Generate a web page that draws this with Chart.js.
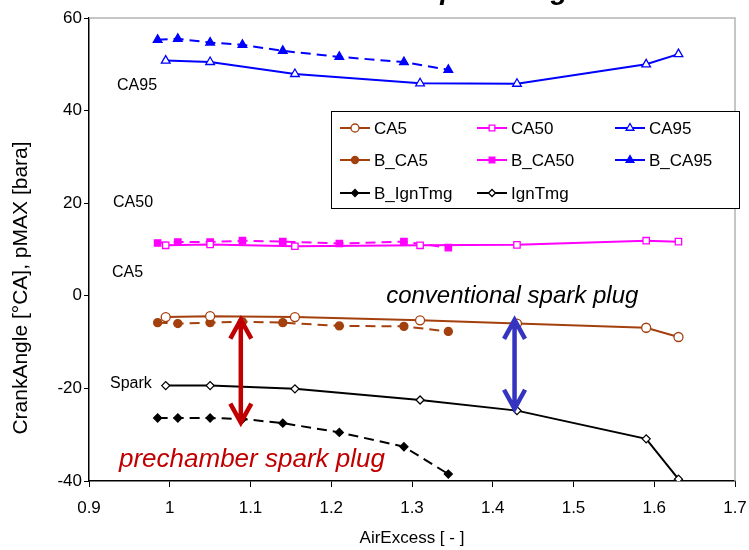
<!DOCTYPE html>
<html>
<head>
<meta charset="utf-8">
<script src="https://cdn.jsdelivr.net/npm/chart.js@4.4.1/dist/chart.umd.min.js"></script>
<style>
  body { margin: 0; background: #fff; }
  #wrap { width: 749px; height: 550px; }
</style>
</head>
<body>
<div id="wrap"><canvas id="phasingChart" width="749" height="550"></canvas></div>
<script>
// air excess ratio of the two test series
const lambdaConv = [0.995, 1.05, 1.155, 1.31, 1.43, 1.59, 1.63];
const lambdaPre = [0.985, 1.01, 1.05, 1.09, 1.14, 1.21, 1.29, 1.345];

// conventional spark plug [°CA]
const ca5 = [-4.6, -4.4, -4.6, -5.3, -6.0, -6.9, -8.9];
const ca50 = [10.9, 11.1, 10.7, 10.9, 11.0, 11.9, 11.7];
const ca95 = [50.8, 50.5, 47.9, 45.9, 45.8, 50.0, 52.2];
const ignTmg = [-19.4, -19.4, -20.1, -22.5, -24.8, -30.9, -39.6];

// prechamber spark plug [°CA]
const bCa5 = [-5.8, -6.0, -5.8, -5.6, -5.8, -6.5, -6.6, -7.7];
const bCa50 = [11.4, 11.6, 11.6, 11.9, 11.7, 11.3, 11.7, 10.4];
const bCa95 = [55.3, 55.5, 54.7, 54.2, 52.9, 51.6, 50.5, 48.8];
const bIgnTmg = [-26.4, -26.4, -26.4, -26.6, -27.5, -29.5, -32.6, -38.5];

const xTickValues = [0.9, 1.0, 1.1, 1.2, 1.3, 1.4, 1.5, 1.6, 1.7];
const yTickValues = [-40, -20, 0, 20, 40, 60];

const legendOrder = ["CA5", "CA50", "CA95", "B_CA5", "B_CA50", "B_CA95", "B_IgnTmg", "IgnTmg"];

const FONT = "'Liberation Sans', Arial, sans-serif";
const BROWN = "#a3400e";
const MAGENTA = "#ff00ff";
const BLUE = "#0000ff";

function pts(xs, ys) {
    return xs.map((x, i) => ({ x: x, y: ys[i] }));
}

function series(label, xs, ys, color, style, filled, dashed, radius) {
    return {
        label: label,
        data: pts(xs, ys),
        borderColor: color,
        backgroundColor: color,
        borderWidth: 2,
        borderDash: dashed ? [10, 6] : [],
        pointStyle: style,
        pointRadius: radius,
        pointBorderWidth: 1.3,
        pointBorderColor: color,
        pointBackgroundColor: filled ? color : "#ffffff",
        tension: 0
    };
}

const datasets = [
    series("CA5", lambdaConv, ca5, BROWN, "circle", false, false, 4.5),
    series("CA50", lambdaConv, ca50, MAGENTA, "rect", false, false, 4.5),
    series("CA95", lambdaConv, ca95, BLUE, "triangle", false, false, 5),
    series("IgnTmg", lambdaConv, ignTmg, "#000000", "rectRot", false, false, 4),
    series("B_CA5", lambdaPre, bCa5, BROWN, "circle", true, true, 4),
    series("B_CA50", lambdaPre, bCa50, MAGENTA, "rect", true, true, 4.5),
    series("B_CA95", lambdaPre, bCa95, BLUE, "triangle", true, true, 5),
    series("B_IgnTmg", lambdaPre, bIgnTmg, "#000000", "rectRot", true, true, 4)
];

// gray frame on the top/right of the plot area, y axis title
const framePlugin = {
    id: "frame",
    beforeDatasetsDraw(chart) {
        const { ctx, chartArea: a } = chart;
        ctx.save();
        ctx.strokeStyle = "#b4b4b4";
        ctx.lineWidth = 1.5;
        ctx.beginPath();
        ctx.moveTo(a.left, a.top);
        ctx.lineTo(a.right, a.top);
        ctx.lineTo(a.right, a.bottom);
        ctx.stroke();

        ctx.translate(21, 288);
        ctx.rotate(-Math.PI / 2);
        ctx.fillStyle = "#000";
        ctx.font = "21px " + FONT;
        ctx.textAlign = "center";
        ctx.textBaseline = "middle";
        ctx.fillText("CrankAngle [°CA], pMAX [bara]", 0, 0);
        ctx.restore();
    }
};

function doubleArrow(ctx, x, y1, y2, color) {
    const head = 19, half = 10.5;
    ctx.save();
    ctx.strokeStyle = color;
    ctx.lineWidth = 4.5;
    ctx.lineJoin = "miter";
    ctx.beginPath();
    ctx.moveTo(x, y1 + 2);
    ctx.lineTo(x, y2 - 2);
    ctx.moveTo(x - half, y1 + head);
    ctx.lineTo(x, y1);
    ctx.lineTo(x + half, y1 + head);
    ctx.moveTo(x - half, y2 - head);
    ctx.lineTo(x, y2);
    ctx.lineTo(x + half, y2 - head);
    ctx.stroke();
    ctx.restore();
}

// labels, arrows and the heading
const notesPlugin = {
    id: "notes",
    afterDatasetsDraw(chart) {
        const { ctx } = chart;
        const xs = chart.scales.x, ys = chart.scales.y;
        const px = v => xs.getPixelForValue(v);
        const py = v => ys.getPixelForValue(v);

        ctx.save();
        ctx.fillStyle = "#000";
        ctx.textBaseline = "middle";
        ctx.textAlign = "left";
        ctx.font = "16px " + FONT;
        ctx.fillText("CA95", 117, 86);
        ctx.fillText("CA50", 113, 203);
        ctx.fillText("CA5", 112, 273);
        ctx.fillText("Spark", 110, 384);

        ctx.font = "italic 24px " + FONT;
        ctx.fillText("conventional spark plug", px(1.268), py(-0.2));
        ctx.fillStyle = "#c00000";
        ctx.font = "italic 26px " + FONT;
        ctx.fillText("prechamber spark plug", 119, py(-35.5));

        ctx.font = "bold italic 28px " + FONT;
        ctx.fillStyle = "#000";
        ctx.textAlign = "center";
        ctx.textBaseline = "alphabetic";
        ctx.fillText("Prechamber Spark Plug", 410, -1);
        ctx.restore();

        doubleArrow(ctx, px(1.088), py(-5.15), py(-27.4), "#c00000");
        doubleArrow(ctx, px(1.427), py(-5.2), py(-24.4), "#3434c0");
    }
};

// boxed three-column legend inside the plot
const legendPlugin = {
    id: "boxLegend",
    afterDraw(chart) {
        const { ctx } = chart;
        const box = { x: 331, y: 111, w: 408, h: 97 };
        const cols = [340, 477, 615];
        const rows = [128, 160, 193];
        ctx.save();
        ctx.fillStyle = "#fff";
        ctx.fillRect(box.x, box.y, box.w, box.h);
        ctx.strokeStyle = "#000";
        ctx.lineWidth = 1;
        ctx.strokeRect(box.x + 0.5, box.y + 0.5, box.w, box.h);

        legendOrder.forEach((name, i) => {
            const ds = chart.data.datasets.find(d => d.label === name);
            const x = cols[i % 3], y = rows[Math.floor(i / 3)];
            ctx.strokeStyle = ds.borderColor;
            ctx.lineWidth = 2;
            ctx.setLineDash([]);
            ctx.beginPath();
            ctx.moveTo(x, y);
            ctx.lineTo(x + 30, y);
            ctx.stroke();
            ctx.fillStyle = ds.pointBackgroundColor;
            ctx.strokeStyle = ds.pointBorderColor;
            ctx.lineWidth = ds.pointBorderWidth;
            Chart.helpers.drawPoint(ctx, {
                pointStyle: ds.pointStyle,
                radius: ds.pointRadius - 0.5,
                rotation: 0,
                borderWidth: ds.pointBorderWidth
            }, x + 15, y);
            ctx.fillStyle = "#000";
            ctx.font = "17px " + FONT;
            ctx.textBaseline = "middle";
            ctx.textAlign = "left";
            ctx.fillText(name, x + 34, y + 1);
        });
        ctx.restore();
    }
};

const ctx = document.getElementById("phasingChart").getContext("2d");

new Chart(ctx, {
    type: "line",
    data: { datasets },
    options: {
        responsive: false,
        animation: false,
        layout: { padding: { left: 0, top: 18, right: 14, bottom: 0 } },
        plugins: {
            legend: { display: false },
            tooltip: { enabled: false }
        },
        scales: {
            x: {
                type: "linear",
                min: 0.9,
                max: 1.7,
                afterBuildTicks: s => { s.ticks = xTickValues.map(v => ({ value: v })); },
                afterFit: s => {
                    s.height = 69;
                    s.paddingLeft = 0;
                    s.paddingRight = 0;
                },
                grid: { drawOnChartArea: false, drawTicks: true, tickLength: 6, color: "#000" },
                border: { color: "#000", width: 1.5 },
                ticks: {
                    color: "#000",
                    font: { family: FONT, size: 17 },
                    padding: 11,
                    callback: v => String(+v.toFixed(1))
                },
                title: {
                    display: true,
                    text: "AirExcess [ - ]",
                    color: "#000",
                    font: { family: FONT, size: 17 },
                    padding: { top: 0, bottom: 1 }
                }
            },
            y: {
                type: "linear",
                min: -40,
                max: 60,
                afterBuildTicks: s => { s.ticks = yTickValues.map(v => ({ value: v })); },
                afterFit: s => {
                    s.width = 89;
                    s.paddingTop = 0;
                    s.paddingBottom = 0;
                },
                grid: { drawOnChartArea: false, drawTicks: true, tickLength: 5, color: "#000" },
                border: { color: "#000", width: 1.5 },
                ticks: {
                    color: "#000",
                    font: { family: FONT, size: 17 },
                    padding: 2
                }
            }
        }
    },
    plugins: [framePlugin, notesPlugin, legendPlugin]
});
</script>
</body>
</html>
